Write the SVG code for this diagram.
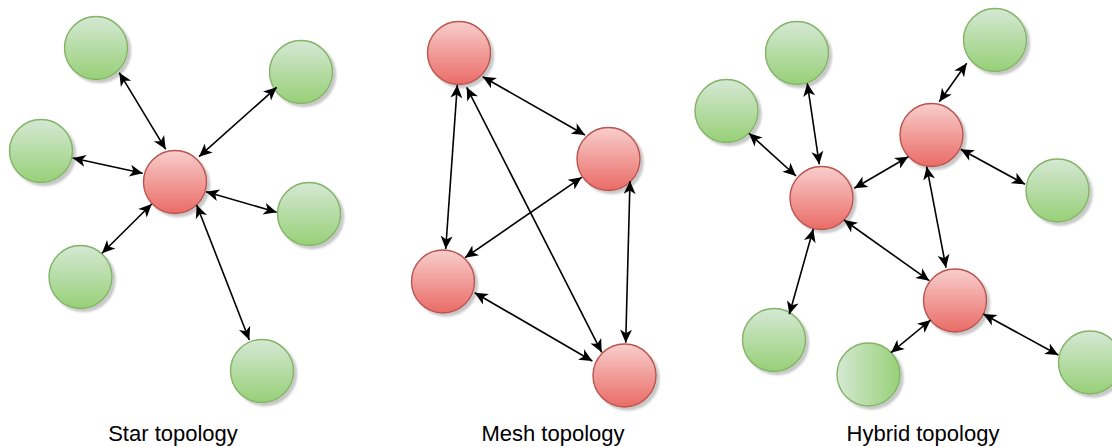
<svg xmlns="http://www.w3.org/2000/svg" width="1112" height="447" viewBox="0 0 1112 447">
  <style>
    .red { fill: url(#gRed); stroke: #b85450; stroke-width: 1.4; filter: url(#shadow); }
    .green { fill: url(#gGreen); stroke: #82b366; stroke-width: 1.4; filter: url(#shadow); }
    .greenH { fill: url(#gGreenH); stroke: #82b366; stroke-width: 1.4; filter: url(#shadow); }
    .edge { stroke: #000; stroke-width: 1.6; fill: none; marker-start: url(#arr); marker-end: url(#arr); }
    .caption { font-family: "Liberation Sans", Arial, Helvetica, sans-serif; font-size: 22px; fill: #000; text-anchor: middle; }
  </style>
  <defs>
    <linearGradient id="gRed" x1="0" y1="0" x2="0" y2="1">
      <stop offset="0" stop-color="#f8cecc"/>
      <stop offset="1" stop-color="#ea6b66"/>
    </linearGradient>
    <linearGradient id="gGreen" x1="0" y1="0" x2="0" y2="1">
      <stop offset="0" stop-color="#d5e8d4"/>
      <stop offset="1" stop-color="#97d077"/>
    </linearGradient>
    <linearGradient id="gGreenH" x1="0" y1="0" x2="1" y2="0">
      <stop offset="0" stop-color="#d5e8d4"/>
      <stop offset="1" stop-color="#97d077"/>
    </linearGradient>
    <filter id="shadow" x="-20%" y="-20%" width="150%" height="150%">
      <feDropShadow dx="3" dy="3" stdDeviation="1" flood-color="#000" flood-opacity="0.22"/>
    </filter>
    <marker id="arr" viewBox="-14 -8 15 16" refX="0" refY="0" markerWidth="15" markerHeight="16" markerUnits="userSpaceOnUse" orient="auto-start-reverse">
      <path d="M0,0 L-13,-6 L-9.5,0 L-13,6 Z" fill="#000"/>
    </marker>
  </defs>

  <!-- Star topology -->
  <g id="star-hub"><circle class="red" cx="175" cy="182" r="31.5"/></g>
  <g id="star-n1"><circle class="green" cx="96" cy="48" r="31.5"/></g>
  <g id="star-n2"><circle class="green" cx="301" cy="72" r="31.5"/></g>
  <g id="star-n3"><circle class="green" cx="41" cy="151" r="31.5"/></g>
  <g id="star-n4"><circle class="green" cx="309" cy="214" r="31.5"/></g>
  <g id="star-n5"><circle class="green" cx="80.5" cy="277" r="31.5"/></g>
  <g id="star-n6"><circle class="green" cx="262" cy="371" r="31.5"/></g>

  <!-- Mesh topology -->
  <g id="mesh-a"><circle class="red" cx="459" cy="53" r="31.5"/></g>
  <g id="mesh-b"><circle class="red" cx="608.5" cy="159" r="31.5"/></g>
  <g id="mesh-c"><circle class="red" cx="443" cy="281.5" r="31.5"/></g>
  <g id="mesh-d"><circle class="red" cx="624.5" cy="375.5" r="31.5"/></g>

  <!-- Hybrid topology -->
  <g id="hyb-g1"><circle class="green" cx="797" cy="53" r="31.5"/></g>
  <g id="hyb-g2"><circle class="green" cx="995" cy="40" r="31.5"/></g>
  <g id="hyb-g3"><circle class="green" cx="726.5" cy="111" r="31.5"/></g>
  <g id="hyb-g4"><circle class="green" cx="1057.5" cy="190.5" r="31.5"/></g>
  <g id="hyb-g5"><circle class="green" cx="774" cy="340" r="31.5"/></g>
  <g id="hyb-g6"><circle class="greenH" cx="868.5" cy="374.5" r="31.5"/></g>
  <g id="hyb-g7"><circle class="green" cx="1090" cy="362.5" r="31.5"/></g>
  <g id="hyb-r1"><circle class="red" cx="931.5" cy="135" r="31.5"/></g>
  <g id="hyb-r2"><circle class="red" cx="821.5" cy="198" r="31.5"/></g>
  <g id="hyb-r3"><circle class="red" cx="955" cy="300.5" r="31.5"/></g>

  <!-- Links -->
  <g id="connectors">
    <line class="edge" x1="119.3" y1="72.7" x2="165.7" y2="149.3"/>
    <line class="edge" x1="276.7" y1="87.3" x2="199" y2="156.7"/>
    <line class="edge" x1="72.7" y1="158" x2="142.7" y2="173.3"/>
    <line class="edge" x1="206" y1="191.7" x2="276.7" y2="212.3"/>
    <line class="edge" x1="102" y1="253.3" x2="151.7" y2="204"/>
    <line class="edge" x1="196.7" y1="205" x2="249.3" y2="340"/>

    <line class="edge" x1="482.7" y1="76.7" x2="585" y2="135"/>
    <line class="edge" x1="457.3" y1="85" x2="445.7" y2="249"/>
    <line class="edge" x1="466.7" y1="87.3" x2="601.7" y2="352.3"/>
    <line class="edge" x1="581.7" y1="177.3" x2="465" y2="257.7"/>
    <line class="edge" x1="630" y1="181" x2="625.7" y2="342.7"/>
    <line class="edge" x1="474.7" y1="292.7" x2="592.3" y2="361"/>

    <line class="edge" x1="807.3" y1="83.3" x2="819.3" y2="164.3"/>
    <line class="edge" x1="749" y1="133.3" x2="796" y2="176"/>
    <line class="edge" x1="966.7" y1="63.3" x2="939.3" y2="101.7"/>
    <line class="edge" x1="908.3" y1="156.7" x2="854.3" y2="188.3"/>
    <line class="edge" x1="960.7" y1="149.3" x2="1025" y2="184.3"/>
    <line class="edge" x1="926.7" y1="166.7" x2="946" y2="267.7"/>
    <line class="edge" x1="844" y1="220" x2="929.3" y2="280.7"/>
    <line class="edge" x1="813.3" y1="229" x2="789.3" y2="314.3"/>
    <line class="edge" x1="930.7" y1="320" x2="891" y2="352.7"/>
    <line class="edge" x1="983.3" y1="314" x2="1058.3" y2="355"/>
  </g>

  <text class="caption" x="173" y="441">Star topology</text>
  <text class="caption" x="553" y="441">Mesh topology</text>
  <text class="caption" x="923" y="441">Hybrid topology</text>
</svg>
